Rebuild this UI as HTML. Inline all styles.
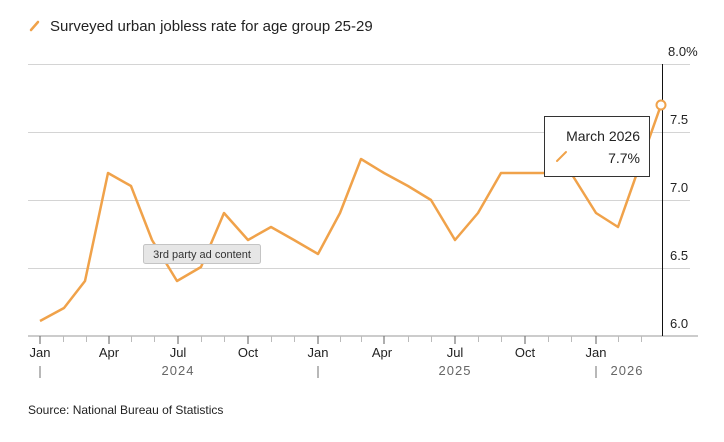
<!DOCTYPE html>
<html><head><meta charset="utf-8"><style>
body{margin:0;background:#fff;width:724px;height:437px;overflow:hidden;font-family:"Liberation Sans",sans-serif}
</style></head><body>
<svg width="724" height="437" xmlns="http://www.w3.org/2000/svg" font-family="Liberation Sans, sans-serif">
<line x1="31" y1="30" x2="38" y2="22" stroke="#f0a24a" stroke-width="2.5" stroke-linecap="round"/>
<text x="50" y="31" font-size="15" fill="#222">Surveyed urban jobless rate for age group 25-29</text>
<g stroke="#d4d4d4" stroke-width="1">
<line x1="28" y1="64.5" x2="690" y2="64.5"/>
<line x1="28" y1="132.5" x2="690" y2="132.5"/>
<line x1="28" y1="200.5" x2="690" y2="200.5"/>
<line x1="28" y1="268.5" x2="690" y2="268.5"/>
</g>
<line x1="28" y1="336" x2="698" y2="336" stroke="#ccc" stroke-width="2"/>
<line x1="662.5" y1="64" x2="662.5" y2="336" stroke="#111" stroke-width="1"/>
<g font-size="13" fill="#222">
<text x="668" y="56">8.0%</text>
<text x="670" y="124">7.5</text>
<text x="670" y="192">7.0</text>
<text x="670" y="260">6.5</text>
<text x="670" y="328">6.0</text>
</g>
<g stroke="#bbb" stroke-width="1">
<line x1="63.5" y1="336" x2="63.5" y2="342"/><line x1="86.5" y1="336" x2="86.5" y2="342"/>
<line x1="131.5" y1="336" x2="131.5" y2="342"/><line x1="154.5" y1="336" x2="154.5" y2="342"/>
<line x1="201.5" y1="336" x2="201.5" y2="342"/><line x1="224.5" y1="336" x2="224.5" y2="342"/>
<line x1="271.5" y1="336" x2="271.5" y2="342"/><line x1="294.5" y1="336" x2="294.5" y2="342"/>
<line x1="340.5" y1="336" x2="340.5" y2="342"/><line x1="361.5" y1="336" x2="361.5" y2="342"/>
<line x1="408.5" y1="336" x2="408.5" y2="342"/><line x1="431.5" y1="336" x2="431.5" y2="342"/>
<line x1="478.5" y1="336" x2="478.5" y2="342"/><line x1="501.5" y1="336" x2="501.5" y2="342"/>
<line x1="548.5" y1="336" x2="548.5" y2="342"/><line x1="571.5" y1="336" x2="571.5" y2="342"/>
<line x1="618.5" y1="336" x2="618.5" y2="342"/><line x1="641.5" y1="336" x2="641.5" y2="342"/>
</g>
<g stroke="#777" stroke-width="1.2">
<line x1="40" y1="336" x2="40" y2="344"/><line x1="109" y1="336" x2="109" y2="344"/>
<line x1="178" y1="336" x2="178" y2="344"/><line x1="248" y1="336" x2="248" y2="344"/>
<line x1="318" y1="336" x2="318" y2="344"/><line x1="384" y1="336" x2="384" y2="344"/>
<line x1="455" y1="336" x2="455" y2="344"/><line x1="525" y1="336" x2="525" y2="344"/>
<line x1="596" y1="336" x2="596" y2="344"/>
</g>
<g font-size="13" fill="#222" text-anchor="middle">
<text x="40" y="357">Jan</text><text x="109" y="357">Apr</text><text x="178" y="357">Jul</text>
<text x="248" y="357">Oct</text><text x="318" y="357">Jan</text><text x="382" y="357">Apr</text>
<text x="455" y="357">Jul</text><text x="525" y="357">Oct</text><text x="596" y="357">Jan</text>
</g>
<g stroke="#888" stroke-width="1.2">
<line x1="40" y1="366" x2="40" y2="378"/><line x1="318" y1="366" x2="318" y2="378"/><line x1="596" y1="366" x2="596" y2="378"/>
</g>
<g font-size="13" fill="#666" text-anchor="middle" letter-spacing="1">
<text x="178" y="375">2024</text><text x="455" y="375">2025</text><text x="627" y="375">2026</text>
</g>
<polyline fill="none" stroke="#f0a24a" stroke-width="2.5" stroke-linejoin="round" points="40,321 64,308 85,281 108,173 131,186 152,240 177,281 201,267 224,213 248,240 271,227 294,240 318,254 340,213 361,159 384,173 408,186 431,200 455,240 478,213 501,173 524,173 548,173 571,173 596,213 618,227 661,105"/>
<circle cx="661" cy="105" r="4.5" fill="#fff" stroke="#f0a24a" stroke-width="2"/>
<rect x="544.5" y="116.5" width="105" height="60" fill="#fff" stroke="#333" stroke-width="1"/>
<text x="640" y="141" font-size="14" fill="#222" text-anchor="end">March 2026</text>
<line x1="557" y1="161" x2="566" y2="152" stroke="#f0a24a" stroke-width="2" stroke-linecap="round"/>
<text x="640" y="163" font-size="14" fill="#222" text-anchor="end">7.7%</text>
<rect x="143.5" y="244.5" width="117" height="19" rx="2" fill="#e6e6e6" stroke="#c4c4c4"/>
<text x="202" y="258" font-size="11" fill="#333" text-anchor="middle">3rd party ad content</text>
<text x="28" y="414" font-size="12" fill="#222">Source: National Bureau of Statistics</text>
</svg>
</body></html>
